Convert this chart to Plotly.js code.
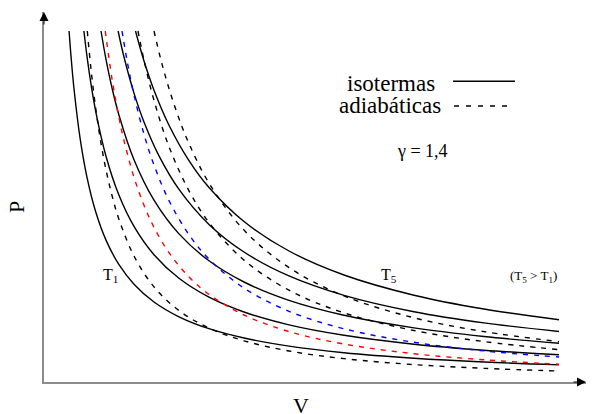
<!DOCTYPE html>
<html>
<head>
<meta charset="utf-8">
<script src="https://cdn.plot.ly/plotly-3.0.1.min.js"></script>
<style>html,body{margin:0;padding:0;background:#fff;}#chart{width:596px;height:414px;}</style>
</head>
<body>
<div id="chart"></div>
<script>
// Isotherms (solid): volume V and pressure P
const iso1_V = [25.07, 27, 30, 36, 43, 52, 62, 75, 90, 110, 135, 165, 200, 245, 300, 370, 440, 515];
const iso1_P = [351, 325.9, 293.3, 244.4, 204.7, 169.2, 141.9, 117.3, 97.8, 80, 65.2, 53.3, 44, 35.9, 29.3, 23.8, 20, 17.1];
const iso2_V = [39.9, 43, 47, 52, 62, 75, 90, 110, 135, 165, 200, 245, 300, 370, 440, 515];
const iso2_P = [351, 325.6, 297.9, 269.2, 225.8, 186.7, 155.6, 127.3, 103.7, 84.8, 70, 57.1, 46.7, 37.8, 31.8, 27.2];
const iso3_V = [57, 62, 68, 75, 90, 110, 135, 165, 200, 245, 300, 370, 440, 515];
const iso3_P = [351, 322.6, 294.1, 266.7, 222.2, 181.8, 148.1, 121.2, 100, 81.6, 66.7, 54.1, 45.5, 38.8];
const iso4_V = [74.1, 80, 90, 100, 115, 135, 165, 200, 245, 300, 370, 440, 515];
const iso4_P = [351, 325, 288.9, 260, 226.1, 192.6, 157.6, 130, 106.1, 86.7, 70.3, 59.1, 50.5];
const iso5_V = [91.5, 100, 110, 125, 145, 165, 200, 245, 300, 370, 440, 515];
const iso5_P = [351, 321, 291.8, 256.8, 221.4, 194.5, 160.5, 131, 107, 86.8, 73, 62.3];

// Adiabatics (dashed), gamma = 1.4
const adi1_V = [43.3, 47, 52, 57, 62, 68, 75, 90, 110, 135, 165, 200, 245, 300, 370, 440, 515];
const adi1_P = [351, 312.8, 271.6, 238.7, 212.2, 186.5, 162.6, 126, 95.1, 71.4, 53.9, 41.2, 31, 23.35, 17.4, 13.66, 10.96];
const adi2_V = [61.25, 68, 75, 80, 90, 100, 110, 125, 145, 165, 200, 245, 300, 370, 440, 515];
const adi2_P = [351, 303.2, 264.3, 241.4, 204.7, 176.7, 154.7, 129.3, 105, 87.6, 67, 50.4, 37.96, 28.3, 22.2, 17.8];
const adi3_V = [78, 84, 90, 100, 110, 125, 145, 165, 200, 245, 300, 370, 440, 515];
const adi3_P = [351, 316.3, 287.1, 247.8, 216.9, 181.4, 147.3, 122.9, 93.9, 70.7, 53.2, 39.7, 31.1, 25];
const adi4_V = [94, 100, 110, 125, 145, 165, 200, 245, 300, 370, 440, 515];
const adi4_P = [351, 321.7, 281.6, 235.4, 191.2, 159.5, 121.9, 91.8, 69.1, 51.5, 40.4, 32.4];
const adi5_V = [110, 117, 125, 135, 145, 165, 200, 245, 300, 370, 440, 515];
const adi5_P = [351, 321.8, 293.5, 263.4, 238.4, 198.9, 151.9, 114.4, 86.1, 64.2, 50.4, 40.4];

const isoSeries = [[iso1_V, iso1_P], [iso2_V, iso2_P], [iso3_V, iso3_P], [iso4_V, iso4_P], [iso5_V, iso5_P]];
const adiSeries = [[adi1_V, adi1_P], [adi2_V, adi2_P], [adi3_V, adi3_P], [adi4_V, adi4_P], [adi5_V, adi5_P]];
const adiColors = ['#000000', '#ff0000', '#0000ff', '#000000', '#000000'];

const FONT = '"Liberation Serif", "Times New Roman", Times, serif';
const traces = [];
isoSeries.forEach(s => traces.push({
  x: s[0], y: s[1], type: 'scatter', mode: 'lines',
  line: {color: '#000', width: 1.4, shape: 'spline'}, hoverinfo: 'skip'
}));
adiSeries.forEach((s, i) => traces.push({
  x: s[0], y: s[1], type: 'scatter', mode: 'lines',
  line: {color: adiColors[i], width: 1.4, dash: '5px,6px', shape: 'spline'}, hoverinfo: 'skip'
}));

const layout = {
  width: 596, height: 414,
  margin: {l: 44, r: 10, t: 12, b: 32, pad: 0},
  paper_bgcolor: '#fff', plot_bgcolor: '#fff',
  showlegend: false,
  font: {family: FONT, color: '#000'},
  xaxis: {range: [0, 542], showline: true, linecolor: '#8c8c8c', linewidth: 2,
          showgrid: false, zeroline: false, ticks: '', showticklabels: false, fixedrange: true},
  yaxis: {range: [0, 370], showline: true, linecolor: '#8c8c8c', linewidth: 2,
          showgrid: false, zeroline: false, ticks: '', showticklabels: false, fixedrange: true},
  shapes: [
    {type: 'line', xref: 'x', yref: 'y', x0: 409, x1: 471, y0: 300.7, y1: 300.7, line: {color: '#000', width: 1.5}},
    {type: 'line', xref: 'x', yref: 'y', x0: 410, x1: 465, y0: 276, y1: 276, line: {color: '#000', width: 1.5, dash: '5px,7px'}}
  ],
  annotations: [
    {x: 542, y: 0, xref: 'x', yref: 'y', ax: -14, ay: 0, text: '', showarrow: true,
     arrowhead: 2, arrowsize: 1.8, arrowwidth: 1, arrowcolor: '#000', standoff: 0},
    {x: 0, y: 370, xref: 'x', yref: 'y', ax: 0, ay: 14, text: '', showarrow: true,
     arrowhead: 2, arrowsize: 1.8, arrowwidth: 1, arrowcolor: '#000', standoff: 0},
    {x: 301, y: 299, xref: 'x', yref: 'y', text: 'isotermas', showarrow: false,
     xanchor: 'left', yanchor: 'middle', font: {size: 23, family: FONT}},
    {x: 293, y: 276.5, xref: 'x', yref: 'y', text: 'adiabáticas', showarrow: false,
     xanchor: 'left', yanchor: 'middle', font: {size: 23, family: FONT}},
    {x: 351, y: 231, xref: 'x', yref: 'y', text: 'γ = 1,4', showarrow: false,
     xanchor: 'left', yanchor: 'middle', font: {size: 18, family: FONT}},
    {x: 57, y: 107, xref: 'x', yref: 'y', text: 'T<sub>1</sub>', showarrow: false,
     xanchor: 'left', yanchor: 'middle', font: {size: 16, family: FONT}},
    {x: 335, y: 107, xref: 'x', yref: 'y', text: 'T<sub>5</sub>', showarrow: false,
     xanchor: 'left', yanchor: 'middle', font: {size: 16, family: FONT}},
    {x: 464, y: 106, xref: 'x', yref: 'y', text: '(T<sub>5</sub> &gt; T<sub>1</sub>)', showarrow: false,
     xanchor: 'left', yanchor: 'middle', font: {size: 13, family: FONT}},
    {x: 0.4742, y: -0.0635, xref: 'paper', yref: 'paper', text: 'V', showarrow: false,
     xanchor: 'center', yanchor: 'middle', font: {size: 22, family: FONT}},
    {x: -0.0498, y: 0.473, xref: 'paper', yref: 'paper', text: 'P', showarrow: false, textangle: -90,
     xanchor: 'center', yanchor: 'middle', font: {size: 22, family: FONT}}
  ]
};

Plotly.newPlot('chart', traces, layout, {staticPlot: true, displayModeBar: false});
</script>
</body>
</html>
